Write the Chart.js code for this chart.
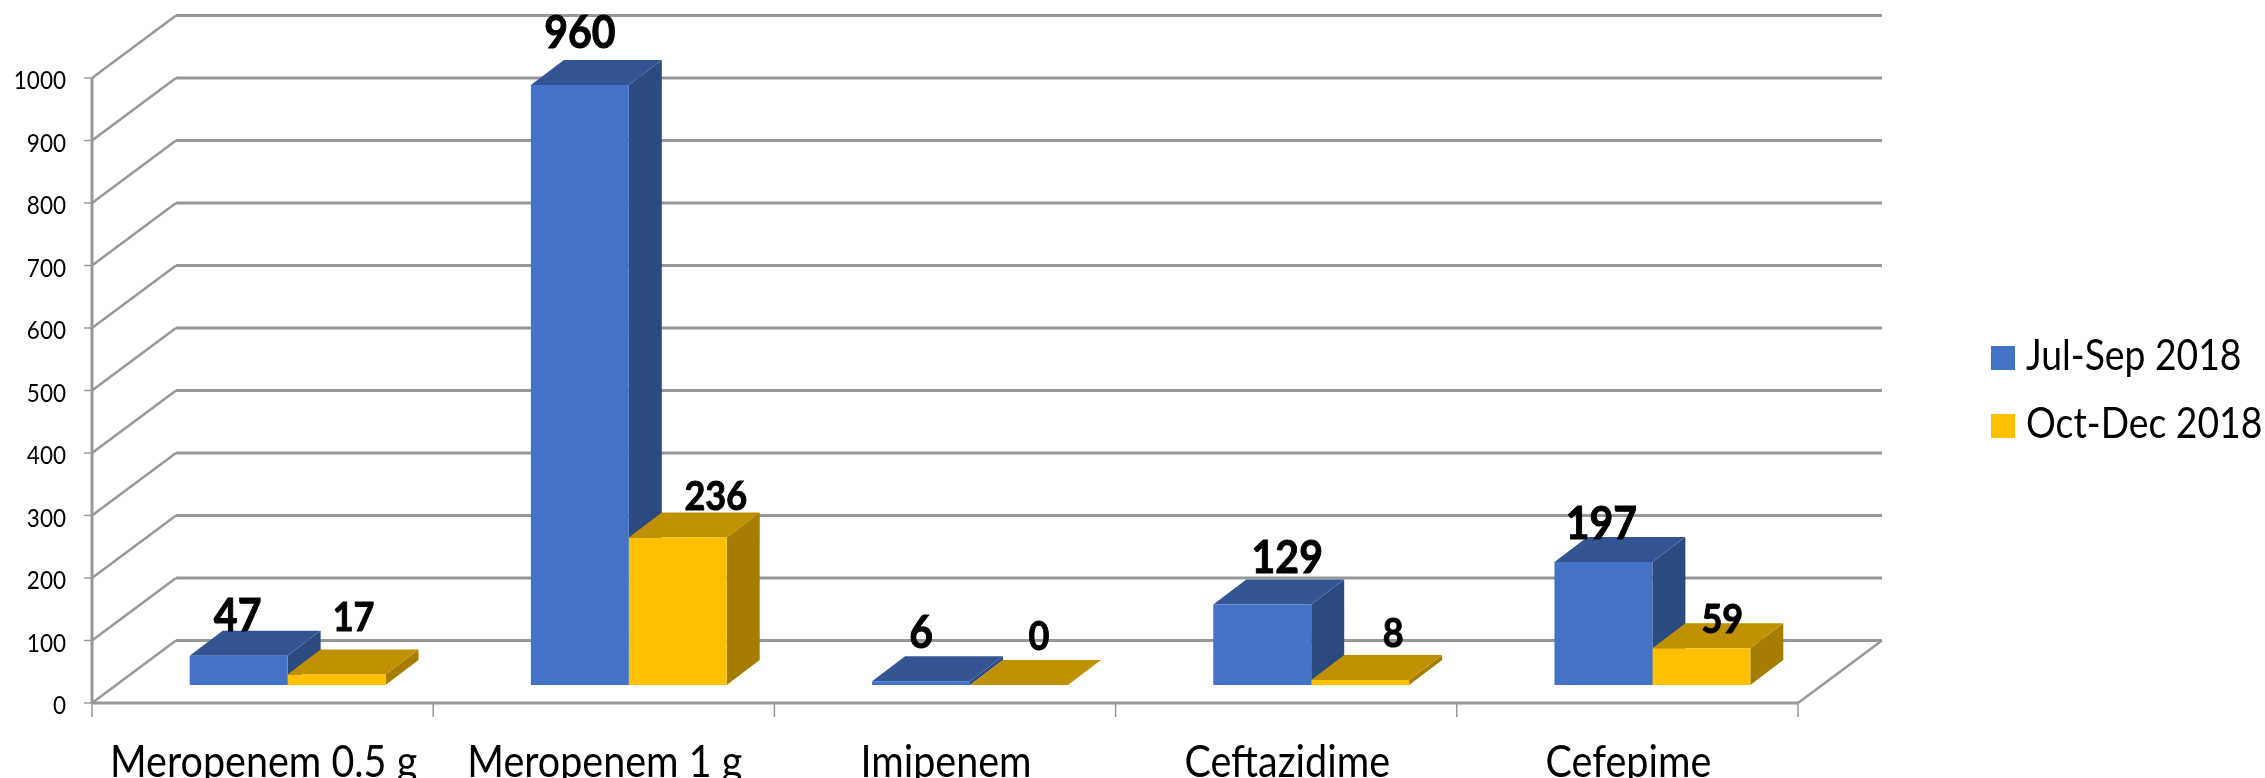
<!DOCTYPE html>
<html>
<head>
<meta charset="utf-8">
<title>Carbapenem and cefepime use</title>
<script src="https://cdn.jsdelivr.net/npm/chart.js@4/dist/chart.umd.min.js"></script>
<style>
  html, body { margin: 0; padding: 0; background: #ffffff; }
  canvas { display: block; }
</style>
</head>
<body>
<canvas id="myChart" width="2265" height="778"></canvas>
<script>
var categories = ['Meropenem 0.5 g', 'Meropenem 1 g', 'Imipenem', 'Ceftazidime', 'Cefepime'];
var julSep = [47, 960, 6, 129, 197];
var octDec = [17, 236, 0, 8, 59];
var seriesNames = ['Jul-Sep 2018', 'Oct-Dec 2018'];
var yTicks = [0, 100, 200, 300, 400, 500, 600, 700, 800, 900, 1000];

// nudges of the value labels from the top of the bar front, per series
var labelNudge = [
    [[-1, -39], [0, -52], [0, -48], [25, -46], [-2, -38]],
    [[17, -56], [38, -41], [20, -48], [33, -46], [21, -28]]
];
var labelFont = ['bold 41px Lato', 'bold 36px Lato'];

var frontColors = ['#4472C4', '#FFC000'];
var topColors = ['#335593', '#BF9000'];
var sideColors = ['#2B4A80', '#A67D00'];
var gridColor = '#989898';

// depth of a bar, and of the floor in front of / behind the bars
var barDepth = { x: 33, y: 25 };
var floorFront = { x: -25, y: 18 };
var floorBack = { x: 59, y: -44.5 };

function poly(ctx, pts, color) {
    ctx.fillStyle = color;
    ctx.beginPath();
    ctx.moveTo(pts[0][0], pts[0][1]);
    for (var i = 1; i < pts.length; i++) ctx.lineTo(pts[i][0], pts[i][1]);
    ctx.closePath();
    ctx.fill();
}

function seg(ctx, x1, y1, x2, y2, width) {
    ctx.lineWidth = width;
    ctx.beginPath();
    ctx.moveTo(x1, y1);
    ctx.lineTo(x2, y2);
    ctx.stroke();
}

// the text runs a little tall and narrow, so it gets a vertical stretch
function tallText(ctx, str, x, y, heavy) {
    ctx.save();
    ctx.translate(x, y);
    ctx.scale(1, 1.12);
    ctx.fillText(str, 0, 0);
    if (heavy) {
        ctx.lineWidth = 0.9;
        ctx.strokeStyle = '#000000';
        ctx.strokeText(str, 0, 0);
    }
    ctx.restore();
}

var box3d = {
    id: 'box3d',
    // walls, floor and the depth faces go under the bar fronts
    beforeDatasetsDraw: function(chart) {
        var ctx = chart.ctx, xs = chart.scales.x, ys = chart.scales.y;
        var left = xs.left, right = xs.right;
        ctx.save();
        ctx.strokeStyle = gridColor;
        ctx.lineCap = 'butt';

        yTicks.forEach(function(v) {
            var y = ys.getPixelForValue(v);
            seg(ctx, left + floorBack.x, y + floorBack.y, right + floorBack.x, y + floorBack.y, 3);
            seg(ctx, left + floorFront.x, y + floorFront.y, left + floorBack.x, y + floorBack.y, 2.5);
            seg(ctx, left + floorFront.x - 8, y + floorFront.y, left + floorFront.x, y + floorFront.y, 1.5);
        });

        var y0 = ys.getPixelForValue(0);
        var yMax = ys.getPixelForValue(1000);
        seg(ctx, left + floorFront.x, y0 + floorFront.y, left + floorFront.x, yMax + floorFront.y, 3);
        seg(ctx, left + floorFront.x, y0 + floorFront.y, right + floorFront.x, y0 + floorFront.y, 3);
        seg(ctx, right + floorFront.x, y0 + floorFront.y, right + floorBack.x, y0 + floorBack.y, 2.5);

        for (var c = 0; c <= categories.length; c++) {
            var tx = left + floorFront.x + (right - left) * c / categories.length;
            seg(ctx, tx, y0 + floorFront.y, tx, y0 + floorFront.y + 14, 1.5);
        }

        chart.data.datasets.forEach(function(ds, i) {
            chart.getDatasetMeta(i).data.forEach(function(bar) {
                var hw = bar.width / 2, l = bar.x - hw, r = bar.x + hw, t = bar.y, b = bar.base;
                var dx = barDepth.x, dy = barDepth.y;
                poly(ctx, [[r, t], [r + dx, t - dy], [r + dx, b - dy], [r, b]], sideColors[i]);
                poly(ctx, [[l, t], [l + dx, t - dy], [r + dx, t - dy], [r, t]], topColors[i]);
            });
        });
        ctx.restore();
    },
    // axis text and value labels
    afterDraw: function(chart) {
        var ctx = chart.ctx, xs = chart.scales.x, ys = chart.scales.y;
        ctx.save();
        ctx.fillStyle = '#000000';
        ctx.textBaseline = 'middle';

        ctx.textAlign = 'right';
        ctx.font = '22.5px Lato';
        yTicks.forEach(function(v) {
            tallText(ctx, String(v), 66, ys.getPixelForValue(v) + floorFront.y + 3);
        });

        ctx.textAlign = 'center';
        ctx.font = '39.5px Lato';
        categories.forEach(function(name, i) {
            tallText(ctx, name, xs.getPixelForValue(i) + floorFront.x + 1, 763);
        });

        chart.data.datasets.forEach(function(ds, i) {
            ctx.font = labelFont[i];
            chart.getDatasetMeta(i).data.forEach(function(bar, j) {
                tallText(ctx, String(ds.data[j]), bar.x + labelNudge[i][j][0], bar.y + labelNudge[i][j][1], true);
            });
        });

        // legend
        ctx.textAlign = 'left';
        ctx.font = '37.3px Lato';
        seriesNames.forEach(function(name, i) {
            var top = 346 + i * 68;
            ctx.fillStyle = frontColors[i];
            ctx.fillRect(1991, top, 24, 24);
            ctx.fillStyle = '#000000';
            tallText(ctx, name, 2026, top + 11);
        });
        ctx.restore();
    }
};

var ctx = document.getElementById('myChart').getContext('2d');

var myChart = new Chart(ctx, {
    type: 'bar',
    data: {
        labels: categories,
        datasets: [{
            label: seriesNames[0],
            data: julSep,
            backgroundColor: frontColors[0]
        }, {
            label: seriesNames[1],
            data: octDec,
            backgroundColor: frontColors[1]
        }]
    },
    options: {
        responsive: false,
        animation: false,
        layout: {
            padding: { left: 117, right: 442, top: 60, bottom: 93 }
        },
        plugins: {
            legend: { display: false },
            tooltip: { enabled: false }
        },
        scales: {
            x: { display: false },
            y: {
                display: false,
                min: 0,
                max: 1000,
                ticks: { stepSize: 100 }
            }
        },
        datasets: {
            bar: { categoryPercentage: 0.574, barPercentage: 1 }
        }
    },
    plugins: [box3d]
});
</script>
</body>
</html>
